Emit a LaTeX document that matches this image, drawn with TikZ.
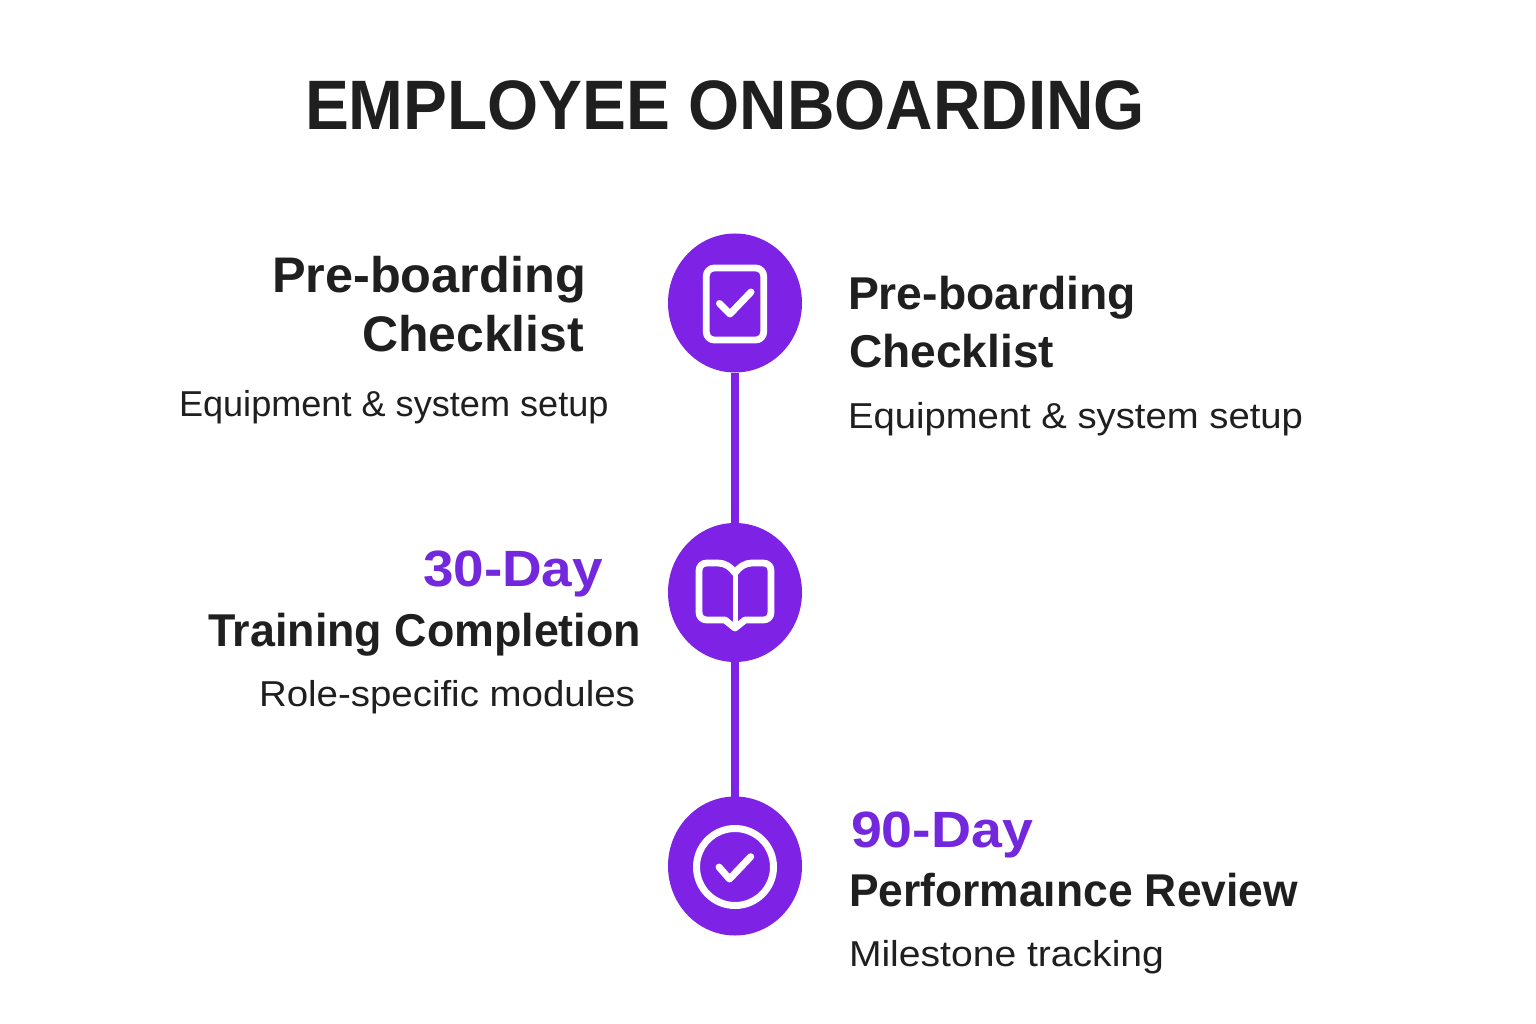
\documentclass[tikz,border=0pt]{standalone}
\usepackage{fontspec}
\usepackage{graphicx}
\usetikzlibrary{shapes.geometric}
\setmainfont{Liberation Sans}
\definecolor{brand}{HTML}{7E22E6}
\definecolor{brandtext}{HTML}{7328DD}
\definecolor{ink}{HTML}{1F1F1F}
\newcommand{\fitw}[2]{\resizebox{#1pt}{\height}{#2}}
\tikzset{
  x=1pt,y=-1pt,
  txt/.style={anchor=base west,inner sep=0pt,outer sep=0pt},
  title/.style={txt,text=ink,font=\fontsize{70}{70}\selectfont\bfseries},
  headl/.style={txt,text=ink,font=\fontsize{50}{50}\selectfont\bfseries},
  head/.style={txt,text=ink,font=\fontsize{46}{46}\selectfont\bfseries},
  day/.style={txt,text=brandtext,font=\fontsize{51}{51}\selectfont\bfseries},
  desc/.style={txt,text=ink,font=\fontsize{36}{36}\selectfont},
  disc/.style={ellipse,fill=brand,minimum width=134pt,minimum height=139pt,inner sep=0pt,outer sep=0pt},
  link/.style={draw=brand,line width=7.3pt},
  icon/.style={draw=white,line width=6.8pt,line cap=round,line join=round},
}
\begin{document}
\begin{tikzpicture}
\useasboundingbox (0,0) rectangle (1536,1024);
\fill[white] (0,0) rectangle (1536,1024);
% connectors
\node[disc] (d1) at (735,303) {};
\node[disc] (d2) at (735,592.5) {};
\node[disc] (d3) at (735,866) {};
\draw[link] (d1) -- (d2);
\draw[link] (d2) -- (d3);
% title
\node[title] (t) at (305,129.5) {\fitw{840}{EMPLOYEE ONBOARDING}};
% left 1
\node[headl] (l1a) at (272,292.5) {\fitw{314}{Pre-boarding}};
\node[headl] (l1b) at (362,351.5) {\fitw{222}{Checklist}};
\node[desc] (l1c) at (179,416) {\fitw{429.5}{Equipment \& system setup}};
% right 1
\node[head] (r1a) at (848,309.5) {\fitw{288}{Pre-boarding}};
\node[head] (r1b) at (849,367.5) {\fitw{205}{Checklist}};
\node[desc] (r1c) at (848,428) {\fitw{455}{Equipment \& system setup}};
% left 2
\node[day] (l2a) at (423,586.5) {\fitw{180}{30-Day}};
\node[head] (l2b) at (208,646.5) {\fitw{433}{Training Completion}};
\node[desc] (l2c) at (259,706) {\fitw{376}{Role-specific modules}};
% right 3
\node[day] (r3a) at (851,847.5) {\fitw{182}{90-Day}};
\node[head] (r3b) at (849,906) {\fitw{449}{Performaınce Review}};
\node[desc] (r3c) at (849,966) {\fitw{315}{Milestone tracking}};
% icon 1
\draw[icon,rounded corners=8pt] (735,268) -- (763.7,268) -- (763.7,340) -- (706.3,340) -- (706.3,268) -- cycle;
\draw[icon,line width=7pt] (719.5,303.5) -- (730,314) -- (751,292);
% icon 2
\draw[icon] (735,573) .. controls (731,567) and (725,563) .. (718,563) -- (707,563)
  .. controls (702,563) and (699,566) .. (699,571) -- (699,612)
  .. controls (699,617) and (702,620) .. (707,620) -- (725,620) -- (735,628) -- (745,620) -- (763,620)
  .. controls (768,620) and (771,617) .. (771,612) -- (771,571)
  .. controls (771,566) and (768,563) .. (763,563) -- (752,563)
  .. controls (745,563) and (739,567) .. (735,573) -- cycle;
\draw[icon,line width=5pt,line cap=butt] (735,573) -- (735,625);
% icon 3
\draw[icon,line width=7pt] (735,867) circle [radius=38.5pt];
\draw[icon,line width=7pt] (719,867) -- (729.5,879) -- (750.7,856.7);
\end{tikzpicture}
\end{document}
